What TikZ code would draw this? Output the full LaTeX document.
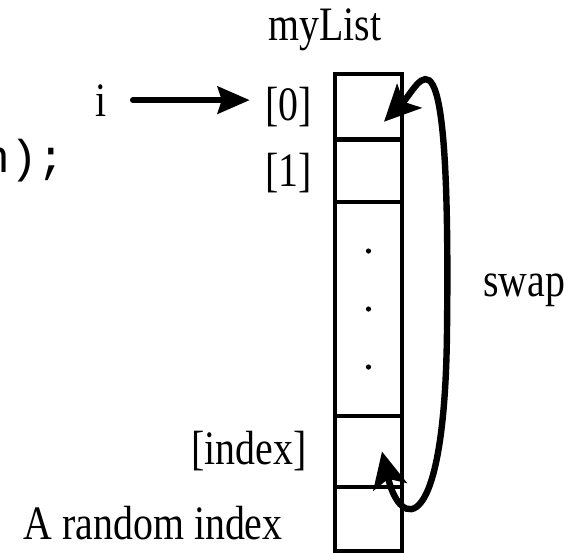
\documentclass[tikz,border=0pt]{standalone}
\usepackage{fontspec}
\setmainfont{Liberation Serif}[FakeStretch=0.83]
\newfontfamily\codefont{Liberation Mono}
\usetikzlibrary{arrows.meta,positioning}
\tikzstyle{cell} = [rectangle, draw=black, line width=2.2pt, minimum width=33.5pt, inner sep=0pt, outer sep=0pt]
\tikzstyle{lab} = [inner sep=0pt, font=\fontsize{24}{28}\selectfont]
\tikzstyle{ptr} = [line width=3pt, line cap=round, -{Stealth[length=16pt,width=13.5pt,inset=2pt]}]
\tikzstyle{swaparrow} = [line width=3.2pt, {Stealth[length=18pt,width=17pt,inset=4pt]}-{Stealth[length=18pt,width=17pt,inset=4pt]}]

\begin{document}
\begin{tikzpicture}[x=0.5pt, y=-0.5pt]
    \useasboundingbox (0,0) rectangle (580,553);
    \clip (0,0) rectangle (580,553);
    % the list
    \node (cell0) [cell, minimum height=32.75pt] at (368.5,106.75) {};
    \node (cell1) [cell, minimum height=31.25pt, below=0pt of cell0] {};
    \node (celldots) [cell, minimum height=107pt, below=0pt of cell1] {};
    \node (cellidx) [cell, minimum height=35.5pt, below=0pt of celldots] {};
    \node (celllast) [cell, minimum height=32pt, below=0pt of cellidx] {};
    \foreach \k in {29,0,-29}
        \fill ([yshift=\k pt]celldots.center) circle (1.3pt);

    \node (lab0) [lab, left=11.5pt of cell0] {[0]};
    \node (lab1) [lab, left=11.5pt of cell1, yshift=-1pt] {[1]};
    \node (labidx) [lab, left=14pt of cellidx] {[index]};
    \node (labrand) [lab, left=26pt of celllast, yshift=-2.25pt] {A random index};
    \node (title) [lab, anchor=base] at (325,40) {myList};
    \node (ivar) [lab, anchor=base] at (101,116) {i};
    \node (swaplab) [lab, anchor=base west] at (483,296) {swap};
    %\node (code) ... the line of code is cut off at the left edge
    \node (code) [lab, font=\codefont\fontsize{23}{28}\selectfont, anchor=base west] at (-18,172) {n);};

    \draw [ptr, shorten <=13pt, shorten >=7.5pt] (ivar.east) -- (ivar.east -| lab0.west);
    \draw [swaparrow] ([shift={(13.5,0)}]cellidx.center) .. controls (400,530) and (445,540) .. (447,330)
                      .. controls (451,-3) and (420,85) .. ([shift={(15.5,15)}]cell0.center);
\end{tikzpicture}
\end{document}
